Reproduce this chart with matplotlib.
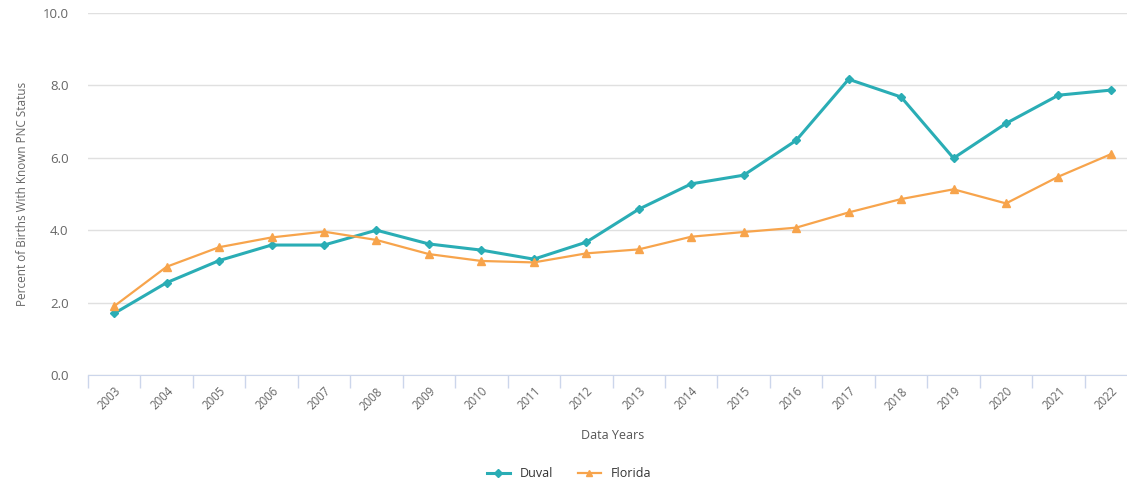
import matplotlib
matplotlib.use("Agg")
import matplotlib.pyplot as plt
import numpy as np

years = [str(y) for y in range(2003, 2023)]
duval = [1.70, 2.55, 3.16, 3.59, 3.59, 4.00, 3.62, 3.45, 3.20, 3.67,
         4.58, 5.28, 5.52, 6.48, 8.17, 7.68, 5.99, 6.95, 7.73, 7.87]
florida = [1.90, 2.99, 3.53, 3.80, 3.96, 3.73, 3.34, 3.15, 3.11, 3.36,
           3.47, 3.82, 3.95, 4.07, 4.49, 4.86, 5.13, 4.74, 5.48, 6.10]
y_ticks = [0.0, 2.0, 4.0, 6.0, 8.0, 10.0]

plt.rcParams['font.family'] = ['Open Sans', 'DejaVu Sans']

fig = plt.figure(figsize=(11.27, 4.82), dpi=100)
ax = fig.add_axes([0.078, 0.222, 0.931, 0.751])

x = np.arange(len(years))
teal = '#2aadb5'
orange = '#f7a44c'
ax.plot(x, duval, color=teal, lw=2.2, marker='D', ms=4.5, label='Duval', zorder=3)
ax.plot(x, florida, color=orange, lw=1.6, marker='^', ms=5.5, label='Florida', zorder=3)

ax.set_xlim(-0.5, len(years) - 0.5)
ax.set_ylim(0, 10)
ax.set_yticks(y_ticks)
ax.set_yticklabels([f"{v:.1f}" for v in y_ticks], color='#666666', fontsize=9.5)
ax.yaxis.grid(True, color='#e0e0e0', lw=1)
ax.set_axisbelow(True)
ax.tick_params(axis='y', length=0, pad=14)

ax.set_xticks(x)
ax.set_xticklabels(years, rotation=45, ha='right', rotation_mode='anchor',
                   color='#666666', fontsize=8.3)
ax.tick_params(axis='x', which='major', length=0, pad=7)
ax.set_xticks(np.arange(-0.5, len(years), 1.0), minor=True)
ax.tick_params(axis='x', which='minor', length=9, color='#ccd6eb', width=1)

for s in ['top', 'right', 'left']:
    ax.spines[s].set_visible(False)
ax.spines['bottom'].set_color('#ccd6eb')

ax.set_ylabel('Percent of Births With Known PNC Status', color='#666666', fontsize=8.5, labelpad=10)
ax.set_xlabel('Data Years', color='#555555', fontsize=9, labelpad=12)

leg = fig.legend(loc='lower center', bbox_to_anchor=(0.505, -0.02), ncol=2, frameon=False,
                 fontsize=9, handlelength=1.8, columnspacing=2.0, labelcolor='#333333',
                 markerscale=0.8)

fig.savefig('out.png', dpi=100)
